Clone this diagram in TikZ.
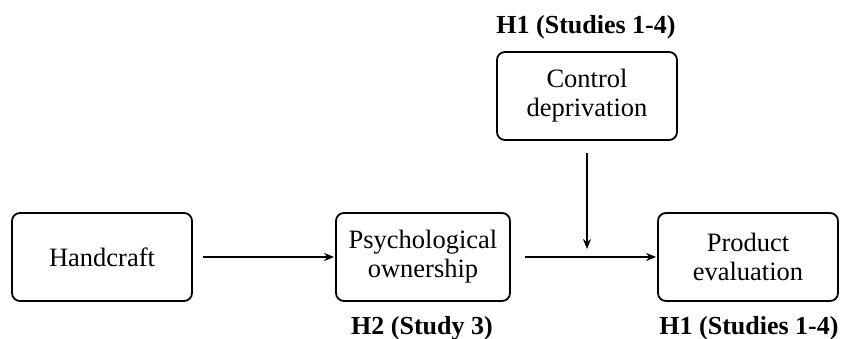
\documentclass[tikz,border=0pt]{standalone}
\usepackage{fontspec}
\setmainfont{Liberation Serif}
\usetikzlibrary{arrows.meta}
\begin{document}
\begin{tikzpicture}[x=1pt,y=1pt,
  box/.style={draw,line width=1.8pt,rounded corners=8pt,align=center,
    inner sep=0pt,font=\fontsize{26.5}{29}\selectfont},
  conn/.style={line width=1.5pt,-{Stealth[length=10pt,width=8pt]}},
  hyp/.style={anchor=base,font=\fontsize{26}{29}\selectfont\bfseries}]
\useasboundingbox (0,0) rectangle (841,339);
\node[box,minimum width=180pt,minimum height=88pt] (hand) at (102,82) {Handcraft};
\node[box,minimum width=174pt,minimum height=88pt] (psy) at (423,82) {Psychological\\ownership};
\node[box,minimum width=180pt,minimum height=88pt] (prod) at (748,82) {Product\\evaluation};
\node[box,minimum width=180pt,minimum height=88pt] (ctrl) at (587,243) {Control\\deprivation};
\node[hyp] (h1top) at (586,305) {H1 (Studies 1-4)};
\node[hyp] (h2) at (422,4) {H2 (Study 3)};
\node[hyp] (h1bot) at (749,4) {H1 (Studies 1-4)};
\coordinate (mid) at (587,82);
\draw[conn,shorten <=10pt,shorten >=1pt] (hand.east) -- (psy.west);
\draw[conn,shorten <=14pt,shorten >=1pt] (psy.east) -- (prod.west);
\draw[conn,shorten <=12pt,shorten >=8pt] (ctrl.south) -- (mid);
\end{tikzpicture}
\end{document}
